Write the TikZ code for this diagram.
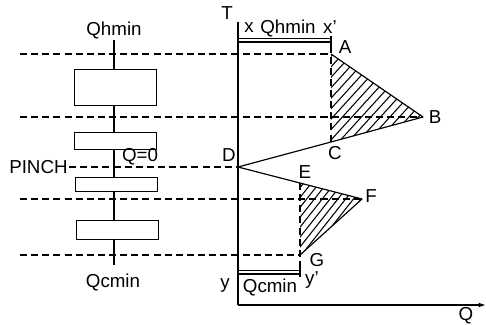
\documentclass[tikz,border=0pt]{standalone}
\usepackage{fontspec}
\setmainfont{Liberation Sans}
\usepackage{tikz}
\usetikzlibrary{arrows.meta, positioning}
\tikzset{
  axisline/.style={line width=1.4pt},
  guide/.style={dash pattern=on 6pt off 3.5pt, line width=0.9pt},
  unitbox/.style={rectangle, draw, fill=white, line width=0.8pt,
                  minimum width=24.6mm, inner sep=0pt},
  curve/.style={line width=1pt, line join=round},
  hatch/.style={line width=0.9pt},
  lbl/.style={font=\fontsize{16}{18}\selectfont, inner sep=1pt},
  barline/.style={line width=0.9pt},
}

\begin{document}
\begin{tikzpicture}[x=3mm, y=3mm]
  \useasboundingbox (-23.8,-1.9) rectangle (24.8,30.5);
  % composite curve points
  \coordinate (A) at (9.3,25.1);
  \coordinate (B) at (18.5,18.8);
  \coordinate (C) at (9.3,16.3);
  \coordinate (D) at (0,13.8);
  \coordinate (E) at (6.2,12.2);
  \coordinate (F) at (12.4,10.6);
  \coordinate (G) at (6.2,5.0);
  \coordinate (O) at (0,0);
  \coordinate (Ttop) at (0,28.3);
  \coordinate (Qend) at (24.7,0);
  % axes
  \draw[axisline] (Ttop) -- (O);
  \draw[line width=0.9pt, -{Stealth[length=6pt, width=4pt]}] (O) -- (Qend);
  \node[lbl] (tlbl) at (-1.1,29.2) {T};
  \node[lbl] (qlbl) at (22.8,-1.1) {Q};
  % hatched pockets
  \begin{scope}
    \clip (A) -- (B) -- (C) -- cycle;
    \foreach \i in {-30,...,30}{
      \draw[hatch] (\i*0.95,0) -- ++(30,33);
    }
  \end{scope}
  \begin{scope}
    \clip (E) -- (F) -- (G) -- cycle;
    \foreach \i in {-30,...,30}{
      \draw[hatch] (\i*0.78,-6) -- ++(30,38);
    }
  \end{scope}
  % curve
  \draw[curve] (A) -- (B) -- (C) -- (D) -- (E) -- (F) -- (G);
  % temperature interval lines
  \draw[guide] (-21.8,25.1) -- (A);
  \draw[guide] (-21.8,18.8) -- (B);
  \draw[guide] (-21.8,10.6) -- (F);
  \draw[guide] (-21.8,5.0) -- (G);
  \node[lbl, anchor=east] (pinch) at (-16.9,13.8) {PINCH};
  \draw[guide] (pinch.east) -- (D);
  % utility bars
  \coordinate (xp) at (9.3,26.3);
  \coordinate (yp) at (6.2,3.1);
  \draw[barline] (0,26.3) -- (xp);
  \draw[barline] (0,26.65) -- (9.3,26.65);
  \draw[barline] (9.3,25.95) -- (9.3,26.95);
  \draw[barline] (0,3.1) -- (yp);
  \draw[barline] (0,3.45) -- (6.2,3.45);
  \draw[barline] (6.2,2.8) -- (6.2,3.75);
  \draw[guide] (9.3,25.95) -- (C);
  \draw[guide] (E) -- (6.2,2.8);
  % point labels
  \node[lbl] (albl) at (10.7,25.8) {A};
  \node[lbl] (blbl) at (19.7,18.8) {B};
  \node[lbl] (clbl) at (9.7,15.2) {C};
  \node[lbl] (dlbl) at (-0.9,15.0) {D};
  \node[lbl] (elbl) at (6.7,13.3) {E};
  \node[lbl] (flbl) at (13.3,10.9) {F};
  \node[lbl] (glbl) at (7.9,4.5) {G};
  \node[lbl] (xlbl) at (1.1,27.7) {x};
  \node[lbl] (qhtop) at (5.0,27.7) {Qhmin};
  \node[lbl] (xplbl) at (9.2,27.8) {x'};
  \node[lbl] (ylbl) at (-1.3,2.0) {y};
  \node[lbl] (qcbot) at (3.2,1.8) {Qcmin};
  \node[lbl] (yplbl) at (7.4,2.5) {y'};
  % cascade of intervals
  \node[lbl] (qh) at (-12.4,27.5) {Qhmin};
  \node[lbl] (qc) at (-12.5,2.3) {Qcmin};
  \coordinate (cbot) at (-12.4,4.0);
  \draw[line width=0.9pt] (qh.south) -- (cbot);
  \node[unitbox, minimum height=10.8mm] (hx1) at (-12.3,21.8) {};
  \node[unitbox, minimum height=5.1mm] (hx2) at (-12.3,16.45) {};
  \node[unitbox, minimum height=4.2mm] (hx3) at (-12.2,12.1) {};
  \node[unitbox, minimum height=5.7mm] (hx4) at (-12.1,7.55) {};
  \node[lbl] (qzero) at (-9.8,14.8) {Q=0};
\end{tikzpicture}
\end{document}
